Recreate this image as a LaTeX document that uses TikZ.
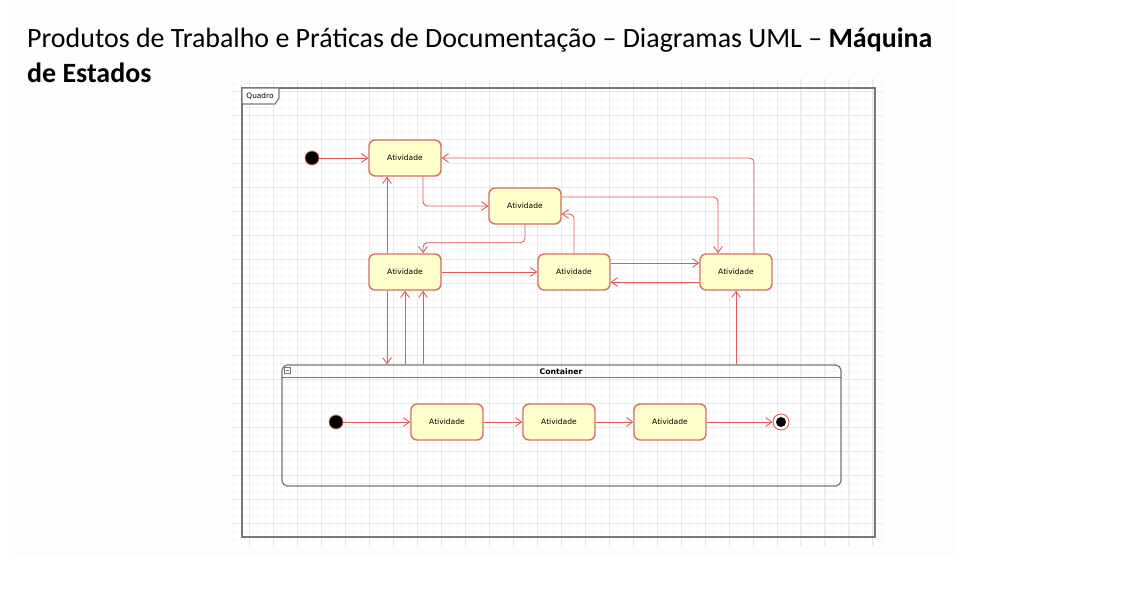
\documentclass[tikz,border=0pt]{standalone}
\usepackage{fontspec}
\usetikzlibrary{calc,arrows.meta}
\newfontfamily\titlefont{Carlito}
\newfontfamily\umlfont{DejaVu Sans}

\definecolor{edgered}{RGB}{224,88,88}
\definecolor{stateborder}{RGB}{214,112,100}
\definecolor{statefill}{RGB}{255,255,204}
\definecolor{framegray}{RGB}{120,120,120}
\definecolor{gridminor}{RGB}{245,245,245}
\definecolor{gridmajor}{RGB}{232,232,232}
\definecolor{panel}{RGB}{253,253,251}

\tikzset{
  state/.style={draw=stateborder, fill=statefill, line width=0.8pt, rounded corners=3.5pt,
    minimum width=1.44cm, minimum height=0.72cm, inner sep=0pt, font=\umlfont\fontsize{4.3}{5}\selectfont},
  initial/.style={circle, draw=stateborder, fill=black, minimum size=0.28cm, inner sep=0pt},
  final/.style={circle, draw=edgered, fill=white, line width=0.5pt, minimum size=0.32cm, inner sep=0pt},
  edge/.style={draw=edgered, line width=0.5pt, rounded corners=2.5pt, -{Straight Barb[length=3.5pt,width=5pt]}},
  frameline/.style={draw=framegray, line width=0.7pt},
}

\begin{document}
\begin{tikzpicture}[x=0.02cm,y=-0.02cm]

\useasboundingbox (0,0) rectangle (1148,590);
\fill[panel] (10,0) rectangle (956,556);

\fill[white] (232,80) rectangle (883,546);
\begin{scope}
  \clip (232,80) rectangle (883,546);
  \begin{scope}[shift={(9,19)}]
    \draw[gridminor, line width=0.3pt] (200,40) grid[step=0.16cm] (900,560);
    \draw[gridmajor, line width=0.4pt] (200,40) grid[step=0.48cm] (900,560);
  \end{scope}
\end{scope}

\node[anchor=base west, font=\titlefont\fontsize{15.9}{20}\selectfont] (title1) at (21,48)
  {Produtos de Trabalho e Práticas de Documentação – Diagramas UML – \textbf{Máquina}};
\node[anchor=base west, font=\titlefont\fontsize{15.9}{20}\selectfont] (title2) at (21,83)
  {\textbf{de Estados}};

\draw[frameline] (242,88) rectangle (875,537);
\draw[frameline, fill=white] (242,88) -- (279,88) -- (279,98) -- (275,104) -- (242,104) -- cycle;
\node[font=\umlfont\fontsize{4.2}{5}\selectfont] (quadro) at (260,96.5) {Quadro};

\node[initial] (ini) at (312,158) {};
\node[state] (A1) at (405,158) {Atividade};
\node[state] (A2) at (525,206) {Atividade};
\node[state] (A3) at (405,272) {Atividade};
\node[state] (A4) at (574,272) {Atividade};
\node[state] (A5) at (736,272) {Atividade};

\node[frameline, rounded corners=3pt, minimum width=11.18cm, minimum height=2.42cm, inner sep=0pt] (cont) at (561.5,425.5) {};
\draw[frameline] ($(cont.north west)+(0,13)$) -- ($(cont.north east)+(0,13)$);
\draw[frameline, line width=0.4pt] (284,367) rectangle (290,373);
\draw[framegray, line width=0.4pt] (285.5,370) -- (288.5,370);
\node[font=\umlfont\bfseries\fontsize{4.4}{5}\selectfont] (conttitle) at (561,372) {Container};

\node[initial] (ini2) at (336,422) {};
\node[state] (B1) at (447,422) {Atividade};
\node[state] (B2) at (559,422) {Atividade};
\node[state] (B3) at (670,422) {Atividade};
\node[final] (fin) at (781,422) {};
\fill[black] (fin) circle (0.1cm);

\draw[edge] (ini) -- (A1);
\draw[edge] ($(A5.north)+(18,0)$) |- (A1.east);
\draw[edge] ($(A1.south)+(18,0)$) |- (A2.west);
\draw[edge] (A2.south) -- ++(0,18) -| ($(A3.north)+(18,0)$);
\draw[edge] (A3) -- (A4);
\draw[edge] (A4.north) |- ($(A2.east)+(0,8)$);
\draw[edge] ($(A2.east)+(0,-9)$) -| ($(A5.north)+(-18,0)$);
\draw[edge] ($(A4.east)+(0,-9)$) -- ($(A5.west)+(0,-9)$);
\draw[edge] ($(A5.west)+(0,10)$) -- ($(A4.east)+(0,10)$);
\draw[edge] ($(A3.north)+(-18,0)$) -- ($(A1.south)+(-18,0)$);

\coordinate (down) at ($(A3.south)+(-18,0)$);
\coordinate (up) at ($(A3.south)+(18,0)$);
\draw[edge] (down) -- (down |- cont.north);
\draw[edge] (A3.south |- cont.north) -- (A3.south);
\draw[edge] (up |- cont.north) -- (up);
\draw[edge] (A5.south |- cont.north) -- (A5.south);

\draw[edge] (ini2) -- (B1);
\draw[edge] (B1) -- (B2);
\draw[edge] (B2) -- (B3);
\draw[edge] (B3) -- (fin);

\end{tikzpicture}
\end{document}
